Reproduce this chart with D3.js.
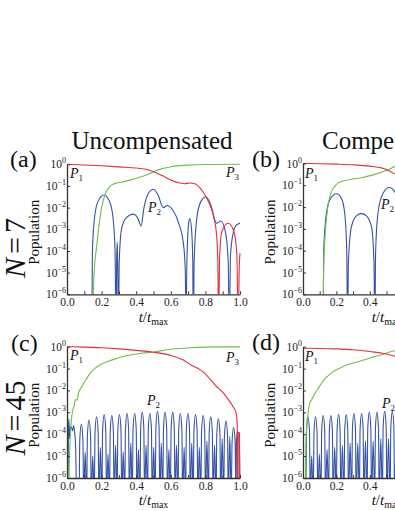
<!DOCTYPE html>
<html>
<head>
<meta charset="utf-8">
<script src="https://cdn.jsdelivr.net/npm/d3@7"></script>
<style>
body { margin: 0; background: #fff; }
svg { display: block; }
</style>
</head>
<body>
<script>
// populations are kept as log10 exponents: [t/tmax, log10(P)]
var xTickVals = [0, 0.1, 0.2, 0.3, 0.4, 0.5, 0.6, 0.7, 0.8, 0.9, 1.0];
var xLabelVals = [0, 0.2, 0.4, 0.6, 0.8, 1.0];
var yTickExp = [0, -1, -2, -3, -4, -5, -6];

// (a) N = 7, uncompensated
var a_red = [[0,0],[0.1,-0.03],[0.2,-0.07],[0.3,-0.12],[0.4,-0.17],[0.45,-0.22],[0.5,-0.34],[0.55,-0.52],[0.6,-0.72],
  [0.65,-0.86],[0.68,-0.9],[0.71,-0.86],[0.74,-0.9],[0.77,-1.1],[0.8,-1.45],[0.83,-1.95],[0.85,-2.5],[0.865,-3.3],
  [0.872,-4.5],[0.876,-8],[0.882,-4.3],[0.895,-3.1],[0.932,-2.72],[0.965,-3.1],[0.982,-4.2],[0.99,-8],[0.995,-5],[1.0,-4.1]];
var a_green = [[0.148,-8],[0.152,-6],[0.16,-4.6],[0.17,-3.9],[0.185,-2.8],[0.2,-2.0],[0.22,-1.4],[0.24,-1.1],[0.26,-0.95],
  [0.28,-0.88],[0.33,-0.8],[0.37,-0.72],[0.41,-0.62],[0.47,-0.46],[0.5,-0.34],[0.55,-0.2],[0.6,-0.11],[0.7,-0.04],
  [0.8,-0.01],[1.0,0]];
var a_blue = [[0.143,-8],[0.147,-4],[0.16,-2.4],[0.18,-1.7],[0.214,-1.42],[0.245,-1.7],[0.265,-2.4],[0.278,-4],[0.283,-8],
  [0.287,-4.5],[0.29,-3.6],[0.293,-4.5],[0.297,-8],
  [0.302,-4.5],[0.315,-3.0],[0.34,-2.5],[0.383,-2.3],[0.41,-2.5],[0.428,-2.85],
  [0.445,-2.0],[0.47,-1.35],[0.5,-1.15],[0.525,-1.4],[0.557,-2.0],[0.58,-1.9],[0.61,-2.1],[0.645,-2.7],[0.675,-3.8],[0.684,-5],[0.688,-8],
  [0.693,-4.5],[0.705,-2.6],[0.71,-2.5],[0.72,-3.0],[0.727,-4.5],[0.73,-8],
  [0.735,-4.5],[0.75,-2.5],[0.775,-1.7],[0.803,-1.5],[0.83,-1.85],[0.865,-2.72],[0.89,-2.62],[0.915,-3.1],[0.932,-4.5],[0.938,-8],
  [0.945,-4.2],[0.96,-3.2],[0.98,-2.8],[1.0,-2.72]];

// (b) N = 7, compensated (cut off at the right edge)
var b_red = [[0,0],[0.1,-0.01],[0.2,-0.03],[0.3,-0.06],[0.4,-0.12],[0.47,-0.2],[0.5,-0.28],[0.53,-0.4],[0.56,-0.52],[0.6,-0.62]];
var b_green = [[0.12,-8],[0.123,-5],[0.13,-3.6],[0.145,-2.2],[0.165,-1.4],[0.19,-1.05],[0.21,-0.9],[0.26,-0.77],[0.35,-0.65],
  [0.43,-0.5],[0.49,-0.34],[0.52,-0.25],[0.56,-0.1],[0.6,-0.05]];
var b_blue = [[0.12,-8],[0.124,-4],[0.14,-2.3],[0.165,-1.6],[0.2,-1.39],[0.23,-1.6],[0.25,-2.3],[0.262,-4],[0.267,-8],
  [0.272,-4.5],[0.29,-2.9],[0.32,-2.4],[0.35,-2.3],[0.38,-2.4],[0.41,-2.9],[0.425,-4.5],[0.43,-8],
  [0.435,-4],[0.45,-2.2],[0.48,-1.35],[0.517,-1.1],[0.55,-1.3],[0.58,-1.8]];

// (c) N = 45, uncompensated
var c_red = [[0,0],[0.1,-0.02],[0.2,-0.05],[0.3,-0.1],[0.4,-0.17],[0.5,-0.25],[0.6,-0.4],[0.67,-0.6],[0.72,-0.85],[0.77,-1.06],
  [0.8,-1.25],[0.83,-1.5],[0.865,-1.83],[0.89,-2.0],[0.92,-2.28],[0.94,-2.5],[0.96,-2.74],[0.978,-3.05],[0.984,-3.6],
  [0.988,-8],[0.99,-3.95],[0.997,-3.95],[1.0,-8]];
var c_green = [[0.01,-8],[0.013,-5.5],[0.018,-4.3],[0.025,-3.4],[0.033,-2.9],[0.04,-2.75],[0.05,-2.4],[0.058,-2.45],[0.067,-2.1],
  [0.08,-1.9],[0.096,-1.67],[0.11,-1.5],[0.135,-1.2],[0.16,-1.0],[0.19,-0.84],[0.24,-0.66],[0.29,-0.53],[0.33,-0.44],
  [0.38,-0.36],[0.43,-0.3],[0.5,-0.24],[0.58,-0.14],[0.69,-0.06],[0.8,-0.02],[0.9,-0.01],[1.0,-0.01]];
var c_blue = [[0.004,-7],[0.008,-4.0],[0.011,-3.3],[0.015,-4.2],[0.02,-3.65],[0.026,-3.7],[0.032,-3.85],[0.038,-3.6],
  [0.044,-3.9],[0.05,-4.6],[0.056,-7],
  [0.0695,-7],[0.074,-4.25],[0.083,-3.55],[0.092,-4.25],[0.0965,-7],[0.105,-4.8],
  [0.1135,-7],[0.118,-4.05],[0.127,-3.35],[0.136,-4.05],[0.1405,-7],[0.149,-5.0],
  [0.1575,-7],[0.162,-3.9],[0.171,-3.2],[0.18,-3.9],[0.1845,-7],[0.193,-4.6],
  [0.2015,-7],[0.206,-3.8],[0.215,-3.1],[0.224,-3.8],[0.2285,-7],[0.237,-4.9],
  [0.2455,-7],[0.25,-3.85],[0.259,-3.15],[0.268,-3.85],[0.2725,-7],[0.281,-4.5],
  [0.2895,-7],[0.294,-3.8],[0.303,-3.1],[0.312,-3.8],[0.3165,-7],[0.325,-4.8],
  [0.3335,-7],[0.338,-3.75],[0.347,-3.05],[0.356,-3.75],[0.3605,-7],[0.369,-4.4],
  [0.3775,-7],[0.382,-3.75],[0.391,-3.05],[0.4,-3.75],[0.4045,-7],[0.413,-4.7],
  [0.4215,-7],[0.426,-3.7],[0.435,-3.0],[0.444,-3.7],[0.4485,-7],[0.457,-4.5],
  [0.4655,-7],[0.47,-3.75],[0.479,-3.05],[0.488,-3.75],[0.4925,-7],[0.501,-4.6],
  [0.5095,-7],[0.514,-3.65],[0.523,-2.95],[0.532,-3.65],[0.5365,-7],[0.545,-4.4],
  [0.5535,-7],[0.558,-3.7],[0.567,-3.0],[0.576,-3.7],[0.5805,-7],[0.589,-4.7],
  [0.5975,-7],[0.602,-3.7],[0.611,-3.0],[0.62,-3.7],[0.6245,-7],[0.633,-4.5],
  [0.6415,-7],[0.646,-3.75],[0.655,-3.05],[0.664,-3.75],[0.6685,-7],[0.677,-4.6],
  [0.6855,-7],[0.69,-3.75],[0.699,-3.05],[0.708,-3.75],[0.7125,-7],[0.721,-4.4],
  [0.7295,-7],[0.734,-3.8],[0.743,-3.1],[0.752,-3.8],[0.7565,-7],[0.765,-4.6],
  [0.7735,-7],[0.778,-3.85],[0.787,-3.15],[0.796,-3.85],[0.8005,-7],[0.809,-4.3],
  [0.8175,-7],[0.822,-3.9],[0.831,-3.2],[0.84,-3.9],[0.8445,-7],[0.853,-4.5],
  [0.8615,-7],[0.866,-4.0],[0.875,-3.3],[0.884,-4.0],[0.8885,-7],[0.897,-4.2],
  [0.9055,-7],[0.91,-4.1],[0.919,-3.4],[0.928,-4.1],[0.9325,-7],[0.941,-4.1],
  [0.9495,-7],[0.954,-4.4],[0.963,-3.7],[0.972,-4.4],[0.9765,-7],
  [0.98,-4.2],[0.985,-3.9],[0.995,-3.95],[1.0,-7]];

// (d) N = 45, compensated (cut off at the right edge)
var d_red = [[0,-0.07],[0.1,-0.08],[0.2,-0.1],[0.3,-0.14],[0.4,-0.22],[0.49,-0.32],[0.55,-0.44],[0.6,-0.55]];
var d_green = [[0.012,-8],[0.016,-5],[0.022,-3.6],[0.03,-3.05],[0.04,-2.6],[0.05,-2.45],[0.06,-2.3],[0.07,-2.15],[0.083,-1.99],
  [0.1,-1.8],[0.123,-1.53],[0.15,-1.33],[0.18,-1.14],[0.22,-0.98],[0.26,-0.84],[0.31,-0.72],[0.37,-0.6],[0.43,-0.45],
  [0.49,-0.32],[0.53,-0.22],[0.6,-0.12]];
var d_blue = [[0.0165,-7],[0.021,-3.9],[0.03,-3.2],[0.039,-3.9],[0.0435,-7],[0.052,-5.0],
  [0.0615,-7],[0.066,-3.9],[0.075,-3.2],[0.084,-3.9],[0.0885,-7],[0.098,-4.9],
  [0.1075,-7],[0.112,-3.85],[0.121,-3.15],[0.13,-3.85],[0.1345,-7],[0.144,-4.7],
  [0.1535,-7],[0.158,-3.85],[0.167,-3.15],[0.176,-3.85],[0.1805,-7],[0.19,-4.6],
  [0.1995,-7],[0.204,-3.8],[0.213,-3.1],[0.222,-3.8],[0.2265,-7],[0.236,-4.5],
  [0.2455,-7],[0.25,-3.8],[0.259,-3.1],[0.268,-3.8],[0.2725,-7],[0.282,-4.4],
  [0.2915,-7],[0.296,-3.75],[0.305,-3.05],[0.314,-3.75],[0.3185,-7],[0.328,-4.4],
  [0.3375,-7],[0.342,-3.75],[0.351,-3.05],[0.36,-3.75],[0.3645,-7],[0.374,-4.3],
  [0.3835,-7],[0.388,-3.7],[0.397,-3.0],[0.406,-3.7],[0.4105,-7],[0.42,-4.3],
  [0.4295,-7],[0.434,-3.7],[0.443,-3.0],[0.452,-3.7],[0.4565,-7],[0.466,-4.2],
  [0.4755,-7],[0.48,-3.65],[0.489,-2.95],[0.498,-3.65],[0.5025,-7],[0.512,-4.2],
  [0.5215,-7],[0.526,-3.65],[0.535,-2.95],[0.544,-3.65],[0.5485,-7],[0.558,-4.2],
  [0.5675,-7],[0.572,-3.65],[0.581,-2.95],[0.59,-3.65],[0.5945,-7]];

var W = 395, H = 511;
var serif = "'Liberation Serif', 'DejaVu Serif', serif";
var RED = "#e4303a", GREEN = "#6cc04a", BLUE = "#3552a8", AXIS = "#333";

var svg = d3.select("body").append("svg")
    .attr("width", W)
    .attr("height", H)
    .style("overflow", "hidden");

var panels = [
  {tag: "(a)", tagX: 10, tagY: 167, left: 67, top: 164.3, w: 173, h: 130, red: a_red, green: a_green, blue: a_blue,
   p1: [70, 178], p2: [148, 212], p3: [226, 177], xlabY: 322},
  {tag: "(b)", tagX: 252, tagY: 167, left: 303, top: 163.5, w: 167, h: 130.8, red: b_red, green: b_green, blue: b_blue,
   p1: [305, 178], p2: [381, 209], p3: null, xlabY: 322},
  {tag: "(c)", tagX: 11, tagY: 351, left: 67, top: 346.7, w: 173, h: 131.3, red: c_red, green: c_green, blue: c_blue,
   p1: [70, 360], p2: [147, 405], p3: [226, 362], xlabY: 505},
  {tag: "(d)", tagX: 252, tagY: 350, left: 303, top: 346.7, w: 167, h: 131.3, red: d_red, green: d_green, blue: d_blue,
   p1: [305, 361], p2: [382, 408], p3: null, xlabY: 505}
];

function pLabel(x, y, sub) {
  var t = svg.append("text")
      .attr("x", x).attr("y", y)
      .attr("font-family", serif)
      .attr("font-size", 14)
      .attr("fill", "#111");
  t.append("tspan").attr("font-style", "italic").text("P");
  t.append("tspan").attr("font-size", 9).attr("dy", 3).text(sub);
}

function drawPanel(p, i) {
  var x = d3.scaleLinear().domain([0, 1]).range([p.left, p.left + p.w]);
  var y = d3.scaleLog().domain([1e-6, 1]).range([p.top + p.h, p.top]);

  var clipId = "clip" + i;
  svg.append("clipPath").attr("id", clipId)
    .append("rect")
      .attr("x", p.left).attr("y", p.top - 5)
      .attr("width", p.w + 2).attr("height", p.h + 5);

  var line = d3.line()
      .x(function(d) { return x(d[0]); })
      .y(function(d) { return y(Math.pow(10, d[1])); })
      .curve(d3.curveMonotoneX);

  var g = svg.append("g");
  var curves = g.append("g").attr("clip-path", "url(#" + clipId + ")");
  [[p.blue, BLUE], [p.green, GREEN], [p.red, RED]].forEach(function(c) {
    curves.append("path")
      .datum(c[0])
      .attr("d", line)
      .attr("fill", "none")
      .attr("stroke", c[1])
      .attr("stroke-width", 1.1);
  });

  var xAxis = g.append("g")
      .attr("transform", "translate(0," + (p.top + p.h) + ")")
      .call(d3.axisBottom(x)
        .tickValues(xTickVals)
        .tickSizeInner(-3)
        .tickSizeOuter(0)
        .tickPadding(4)
        .tickFormat(function(d) { return xLabelVals.indexOf(d) >= 0 ? d.toFixed(1) : ""; }));
  xAxis.selectAll("text").attr("font-family", serif).attr("font-size", 11.5).attr("fill", "#222");

  var yAxis = g.append("g")
      .attr("transform", "translate(" + p.left + ",0)")
      .call(d3.axisLeft(y)
        .tickValues(yTickExp.map(function(e) { return Math.pow(10, e); }))
        .tickSizeInner(-3)
        .tickSizeOuter(0)
        .tickFormat(""));

  [xAxis, yAxis].forEach(function(a) {
    a.select(".domain").attr("stroke", AXIS).attr("stroke-width", 1.3);
    a.selectAll(".tick line").attr("stroke", AXIS);
  });

  var lab = g.selectAll("text.ylab")
    .data(yTickExp)
    .join("text")
      .attr("class", "ylab")
      .attr("x", p.left - 1)
      .attr("y", function(e) { return y(Math.pow(10, e)) + 4; })
      .attr("text-anchor", "end")
      .attr("font-family", serif)
      .attr("font-size", 11.5)
      .attr("fill", "#222");
  lab.append("tspan").text("10");
  lab.append("tspan")
      .attr("font-size", 8)
      .attr("dy", -5)
      .text(function(e) { return e === 0 ? "0" : "\u2212" + (-e); });

  // panel tag
  svg.append("text")
      .attr("x", p.tagX).attr("y", p.tagY)
      .attr("font-family", serif).attr("font-size", 24).attr("fill", "#111")
      .text(p.tag);

  // t / t_max
  var xl = svg.append("text")
      .attr("x", p.left + p.w / 2).attr("y", p.xlabY)
      .attr("text-anchor", "middle")
      .attr("font-family", serif).attr("font-size", 15).attr("fill", "#111");
  xl.append("tspan").attr("font-style", "italic").text("t");
  xl.append("tspan").text("/");
  xl.append("tspan").attr("font-style", "italic").text("t");
  xl.append("tspan").attr("font-size", 10).attr("dy", 3).text("max");

  // Population
  svg.append("text")
      .attr("transform", "translate(" + (p.left - 28) + "," + (p.top + p.h / 2 + 3) + ") rotate(-90)")
      .attr("text-anchor", "middle")
      .attr("font-family", serif).attr("font-size", 15).attr("fill", "#111")
      .text("Population");

  pLabel(p.p1[0], p.p1[1], "1");
  pLabel(p.p2[0], p.p2[1], "2");
  if (p.p3) pLabel(p.p3[0], p.p3[1], "3");
}

panels.forEach(drawPanel);

// column titles
svg.append("text")
    .attr("x", 152).attr("y", 149)
    .attr("text-anchor", "middle")
    .attr("font-family", serif).attr("font-size", 25).attr("fill", "#111")
    .text("Uncompensated");
svg.append("text")
    .attr("x", 322).attr("y", 149)
    .attr("font-family", serif).attr("font-size", 25).attr("fill", "#111")
    .text("Compensated");

// row labels N = 7, N = 45
[["7", 248], ["45", 418]].forEach(function(r) {
  var t = svg.append("text")
      .attr("transform", "translate(25," + r[1] + ") rotate(-90)")
      .attr("text-anchor", "middle")
      .attr("font-family", serif).attr("font-size", 30).attr("fill", "#111");
  t.append("tspan").attr("font-style", "italic").text("N");
  t.append("tspan").attr("dx", 4).text("=");
  t.append("tspan").attr("dx", 4).text(r[0]);
});
</script>
</body>
</html>
